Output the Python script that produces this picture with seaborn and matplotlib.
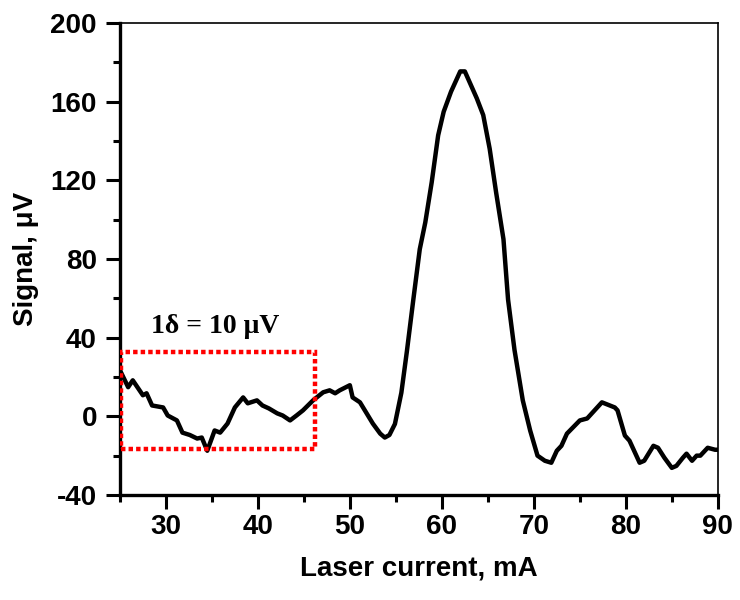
import matplotlib
matplotlib.use("Agg")
import matplotlib.pyplot as plt
import seaborn as sns
from matplotlib.patches import Rectangle
from matplotlib.ticker import MultipleLocator

# laser current (mA) and lock-in signal (uV)
current = [25.0, 25.9, 26.4, 27.5, 27.9, 28.5, 29.7, 30.2, 31.2, 31.8, 32.6, 33.4, 33.9, 34.5,
           35.3, 35.9, 36.7, 37.5, 38.4, 38.9, 39.9, 40.5, 41.2, 42.1, 42.7, 43.5, 44.2, 44.9,
           46.0, 47.1, 47.8, 48.4, 48.9, 50.0, 50.3, 51.1, 52.5, 53.3, 53.8, 54.3, 54.9, 55.6,
           56.2, 56.9, 57.6, 58.2, 58.9, 59.6, 60.2, 61.0, 62.0, 62.5, 63.8, 64.5, 65.2, 65.9,
           66.7, 67.2, 67.9, 68.8, 69.6, 70.4, 71.2, 71.9, 72.5, 73.0, 73.6, 75.0, 75.8, 77.4,
           78.8, 79.1, 79.9, 80.4, 81.5, 82.0, 83.0, 83.5, 84.2, 85.0, 85.5, 86.2, 86.6, 87.2,
           87.7, 88.1, 88.9, 89.7, 90.0]
signal = [23.5, 14.8, 18.3, 10.7, 11.7, 5.5, 4.5, 0.4, -2.1, -8.3, -9.5, -11.3, -10.8, -17.5,
          -7.2, -8.3, -3.7, 4.5, 9.6, 6.6, 8.1, 5.5, 4.0, 1.5, 0.4, -2.1, 0.4, 3.0,
          8.1, 12.2, 13.2, 11.7, 13.2, 15.8, 9.6, 7.1, -3.7, -8.8, -10.8, -9.5, -3.9, 12.0,
          33.0, 59.3, 84.9, 98.5, 119.0, 142.8, 154.8, 165.0, 175.3, 175.3, 161.6, 153.1, 136.0, 113.8,
          90.0, 59.3, 33.7, 8.1, -7.2, -20.0, -22.6, -23.6, -17.5, -15.0, -8.8, -2.1, -1.1, 7.1,
          4.5, 3.0, -9.8, -12.4, -23.6, -22.6, -15.0, -16.0, -21.1, -26.2, -25.2, -21.1, -19.0, -22.6,
          -20.0, -20.0, -16.0, -17.0, -17.0]

# noise window drawn as red dotted box
box_x = [25.1, 46.2]
box_y = [-16.5, 32.5]
note = "1\u03b4 = 10 \u03bcV"

sns.set_style("ticks")
plt.rcParams["font.family"] = ["Liberation Sans", "DejaVu Sans"]
plt.rcParams["font.weight"] = "bold"
plt.rcParams["axes.unicode_minus"] = False
for key in ["text.color", "axes.labelcolor", "xtick.color", "ytick.color", "axes.edgecolor"]:
    plt.rcParams[key] = "black"

fig, ax = plt.subplots(figsize=(7.4, 6), dpi=100)
fig.subplots_adjust(left=0.162, right=0.970, top=0.962, bottom=0.175)

sns.lineplot(x=current, y=signal, sort=False, color="black", linewidth=3.2, ax=ax)

ax.add_patch(Rectangle((box_x[0], box_y[0]), box_x[1] - box_x[0], box_y[1] - box_y[0],
                       fill=False, edgecolor="#ff0000", linewidth=3.2,
                       linestyle=(0, (1, 0.7)), zorder=3))
ax.text(28.4, 42.5, note, fontsize=20, fontweight="bold",
        family=["Liberation Serif", "DejaVu Serif"], va="baseline")

ax.set_xlim(25, 90)
ax.set_ylim(-40, 200)
ax.xaxis.set_major_locator(MultipleLocator(10))
ax.xaxis.set_minor_locator(MultipleLocator(5))
ax.yaxis.set_major_locator(MultipleLocator(40))
ax.yaxis.set_minor_locator(MultipleLocator(20))
ax.set_xticks([30, 40, 50, 60, 70, 80, 90])

ax.tick_params(which="major", length=10, width=2.2, labelsize=20)
ax.tick_params(which="minor", length=5, width=2.2)
ax.tick_params(axis="x", which="major", pad=3.5)
ax.tick_params(axis="y", which="major", pad=6.5)
for lab in ax.get_xticklabels() + ax.get_yticklabels():
    lab.set_fontweight("bold")

for side in ["left", "bottom"]:
    ax.spines[side].set_linewidth(2.4)
for side in ["top", "right"]:
    ax.spines[side].set_linewidth(1.2)

ax.set_xlabel("Laser current, mA", fontsize=20, fontweight="bold", labelpad=11)
ax.set_ylabel("Signal, \u03bcV", fontsize=20, fontweight="bold", labelpad=8)

plt.savefig("out.png", dpi=100)
